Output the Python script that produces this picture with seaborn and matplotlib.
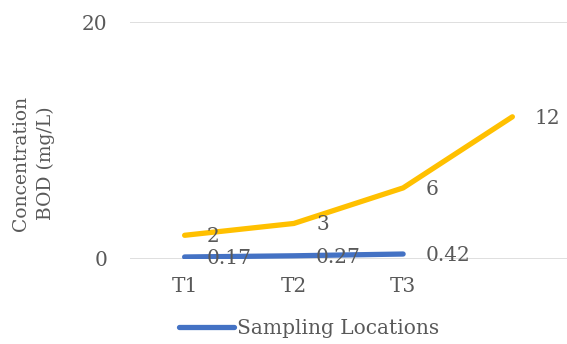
import matplotlib
matplotlib.use("Agg")
import matplotlib.pyplot as plt
import seaborn as sns
import pandas as pd

# Chart data
categories = ["T1", "T2", "T3", ""]
bod_upper = [2, 3, 6, 12]
bod_lower = [0.17, 0.27, 0.42]
legend_label = "Sampling Locations"
y_ticks = [0, 20]

sns.set_theme(style="white")
plt.rcParams["font.family"] = ["DejaVu Serif"]

text_color = "#595959"
yellow = "#FFC000"
blue = "#4472C4"

fig = plt.figure(figsize=(5.67, 3.44), dpi=100)
ax = fig.add_axes([130 / 567, 1 - 259 / 344, 437 / 567, (259 - 22) / 344])

upper_df = pd.DataFrame({"pos": range(len(bod_upper)), "value": bod_upper})
lower_df = pd.DataFrame({"pos": range(len(bod_lower)), "value": bod_lower})

for y in y_ticks:
    ax.axhline(y, color="#D9D9D9", lw=1.2, zorder=0)

sns.lineplot(data=upper_df, x="pos", y="value", ax=ax, color=yellow, lw=3.8,
             solid_capstyle="round", legend=False)
sns.lineplot(data=lower_df, x="pos", y="value", ax=ax, color=blue, lw=3.8,
             solid_capstyle="round", label=legend_label)

for df in (upper_df, lower_df):
    for p, v in zip(df["pos"], df["value"]):
        ax.annotate(f"{v:g}", (p, v), xytext=(16, -1), textcoords="offset points",
                    ha="left", va="center", fontsize=14.5, color=text_color)

ax.set_xlim(-0.5, 3.5)
ax.set_ylim(0, 20)
ax.set_xticks(range(len(categories)))
ax.set_xticklabels(categories)
ax.set_yticks(y_ticks)
ax.tick_params(axis="both", length=0, labelsize=14.5, labelcolor=text_color)
ax.tick_params(axis="x", pad=13)
ax.tick_params(axis="y", pad=16)
ax.set_xlabel("")
ax.set_ylabel("Concentration\nBOD (mg/L)", fontsize=13.5, color=text_color,
              linespacing=1.45)
ax.yaxis.set_label_coords(-75 / 437, (259 - 163) / 237)
for s in ax.spines.values():
    s.set_visible(False)

ax.get_legend().remove()
handles, labels = ax.get_legend_handles_labels()
fig.legend(handles, labels, loc="center", bbox_to_anchor=(309 / 567, 1 - 329 / 344),
           frameon=False, fontsize=14.5, handlelength=2.7, handletextpad=0.15,
           labelcolor=text_color)

fig.savefig("out.png", dpi=100)
